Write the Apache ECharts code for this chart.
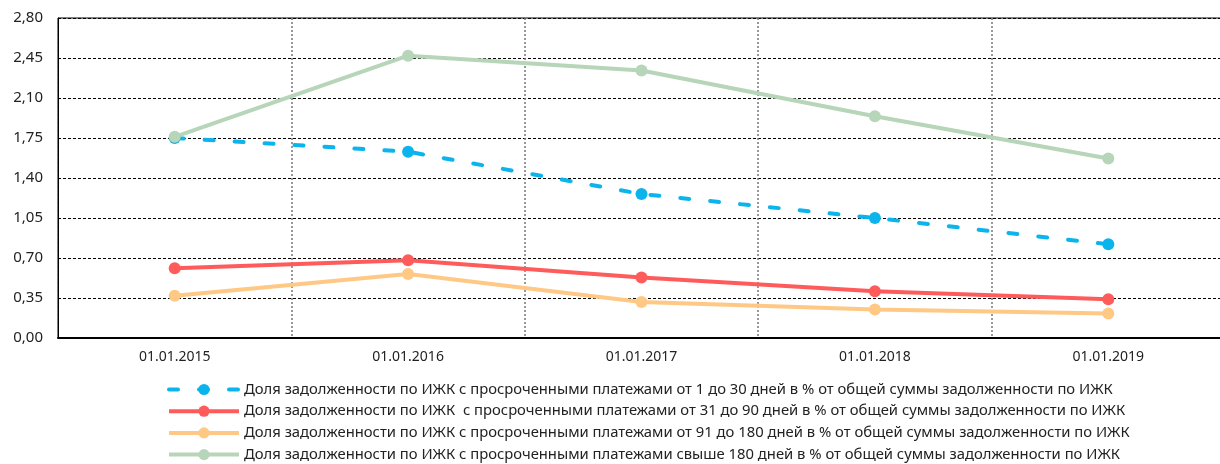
<!DOCTYPE html>
<html>
<head>
<meta charset="utf-8">
<script src="https://cdn.jsdelivr.net/npm/echarts@6/dist/echarts.min.js"></script>
<style>html,body{margin:0;padding:0;background:#fff;}#c{width:1220px;height:464px;}</style>
</head>
<body>
<div id="c"></div>
<script>
var categories = ['01.01.2015', '01.01.2016', '01.01.2017', '01.01.2018', '01.01.2019'];
var seriesNames = [
  'Доля задолженности по ИЖК с просроченными платежами от 1 до 30 дней в % от общей суммы задолженности по ИЖК',
  'Доля задолженности по ИЖК  с просроченными платежами от 31 до 90 дней в % от общей суммы задолженности по ИЖК',
  'Доля задолженности по ИЖК с просроченными платежами от 91 до 180 дней в % от общей суммы задолженности по ИЖК',
  'Доля задолженности по ИЖК с просроченными платежами свыше 180 дней в % от общей суммы задолженности по ИЖК'
];
var d1to30 = [1.75, 1.63, 1.26, 1.05, 0.82];
var d31to90 = [0.61, 0.68, 0.53, 0.41, 0.34];
var d91to180 = [0.37, 0.56, 0.315, 0.25, 0.215];
var dOver180 = [1.76, 2.47, 2.34, 1.94, 1.57];
var yTicks = [0, 0.35, 0.70, 1.05, 1.40, 1.75, 2.10, 2.45, 2.80];

var colors = ['#0BB4EC', '#FF5B5B', '#FFC985', '#B7D5B8'];
var font = 'Noto Sans';

function mk(name, data, color, dashed) {
  return {
    name: name, type: 'line', data: data,
    symbol: 'circle', symbolSize: 12,
    itemStyle: { color: color },
    lineStyle: dashed
      ? { color: color, width: 4, type: [9, 21], cap: 'round' }
      : { color: color, width: 4, type: 'solid' },
    z: 3
  };
}

var chart = echarts.init(document.getElementById('c'), null, { renderer: 'canvas' });
chart.setOption({
  animation: false,
  textStyle: { fontFamily: font },
  grid: { left: 58, top: 18, width: 1167, height: 320, outerBoundsMode: 'none', containLabel: false, show: true, borderColor: '#000', borderWidth: 1 },
  xAxis: {
    type: 'category', data: categories, boundaryGap: true,
    axisLine: { show: true, lineStyle: { color: '#000', width: 2 } },
    axisTick: { show: false },
    axisLabel: { color: '#222', fontSize: 14, margin: 12, fontFamily: font },
    splitLine: { show: true, lineStyle: { color: '#777', type: [2, 2], width: 1.5 } }
  },
  yAxis: {
    type: 'value', min: 0, max: 2.8, interval: 0.35,
    axisLine: { show: true, lineStyle: { color: '#000', width: 1 } },
    axisTick: { show: false },
    axisLabel: {
      color: '#222', fontSize: 15, margin: 15, fontFamily: font,
      formatter: function (v) {
        var t = yTicks.reduce(function (a, b) { return Math.abs(b - v) < Math.abs(a - v) ? b : a; });
        return t.toFixed(2).replace('.', ',');
      }
    },
    splitLine: { show: true, lineStyle: { color: '#000', type: [3, 2], width: 1 } }
  },
  legend: {
    orient: 'vertical', left: 167, top: 382, padding: 0,
    itemWidth: 70, itemHeight: 14, itemGap: 6.7,
    lineStyle: { width: 4 },
    textStyle: { color: '#222', fontSize: 14.8, lineHeight: 14, fontFamily: font },
    data: seriesNames
  },
  series: [
    mk(seriesNames[0], d1to30, colors[0], true),
    mk(seriesNames[1], d31to90, colors[1], false),
    mk(seriesNames[2], d91to180, colors[2], false),
    mk(seriesNames[3], dOver180, colors[3], false)
  ]
});
</script>
</body>
</html>
